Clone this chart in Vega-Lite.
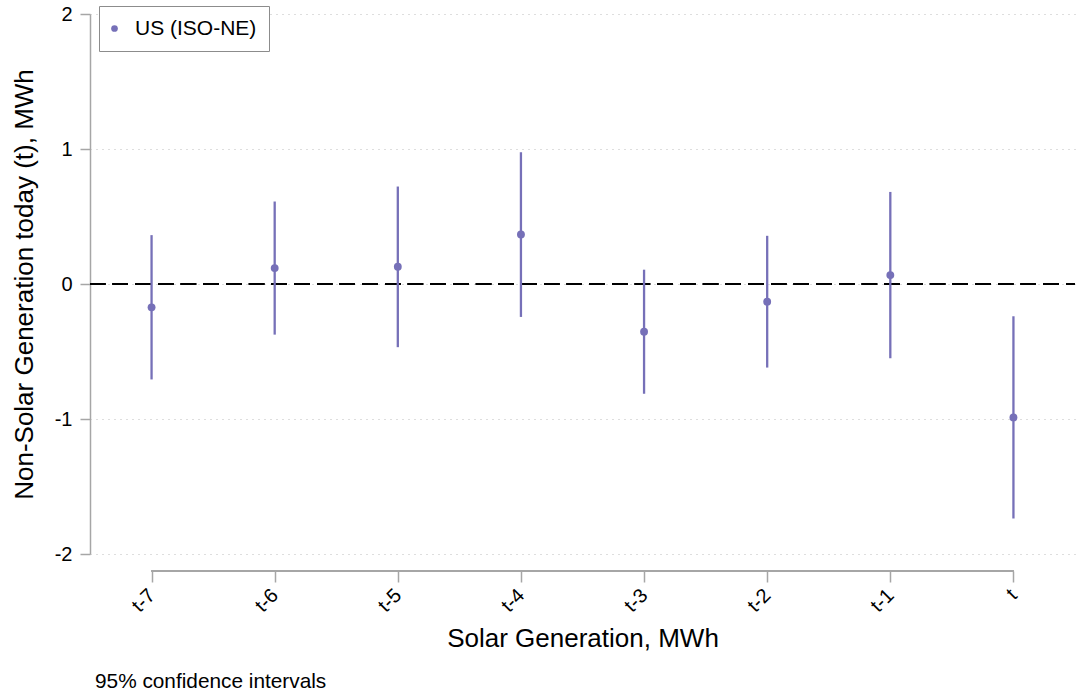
{
  "$schema": "https://vega.github.io/schema/vega-lite/v6.json",
  "width": 985,
  "height": 540,
  "autosize": {"type": "none"},
  "padding": {"left": 90, "top": 14, "right": 3, "bottom": 142},
  "background": "white",
  "config": {
    "view": {"stroke": null},
    "font": "Liberation Sans",
    "axis": {"labelFont": "Liberation Sans", "titleFont": "Liberation Sans", "labelColor": "black", "titleColor": "black", "titleFontWeight": "normal"}
  },
  "title": {
    "text": "95% confidence intervals",
    "orient": "bottom",
    "anchor": "start",
    "frame": "group",
    "fontSize": 20.8,
    "fontWeight": "normal",
    "font": "Liberation Sans",
    "color": "black",
    "dx": 5,
    "offset": 20
  },
  "data": {
    "values": [
      {"lag": "t-7", "b": -0.173, "lo": -0.707, "hi": 0.362, "series": "US (ISO-NE)"},
      {"lag": "t-6", "b": 0.118, "lo": -0.375, "hi": 0.611, "series": "US (ISO-NE)"},
      {"lag": "t-5", "b": 0.128, "lo": -0.468, "hi": 0.722, "series": "US (ISO-NE)"},
      {"lag": "t-4", "b": 0.367, "lo": -0.244, "hi": 0.976, "series": "US (ISO-NE)"},
      {"lag": "t-3", "b": -0.353, "lo": -0.813, "hi": 0.106, "series": "US (ISO-NE)"},
      {"lag": "t-2", "b": -0.131, "lo": -0.619, "hi": 0.357, "series": "US (ISO-NE)"},
      {"lag": "t-1", "b": 0.066, "lo": -0.55, "hi": 0.682, "series": "US (ISO-NE)"},
      {"lag": "t", "b": -0.988, "lo": -1.737, "hi": -0.239, "series": "US (ISO-NE)"}
    ]
  },
  "encoding": {
    "x": {
      "field": "lag",
      "type": "ordinal",
      "sort": null,
      "scale": {"type": "point", "padding": 0.5},
      "axis": {
        "title": "Solar Generation, MWh",
        "titleFontSize": 26,
        "titlePadding": 10,
        "labelFontSize": 20,
        "labelAngle": -45,
        "labelAlign": "right",
        "labelBaseline": "middle",
        "labelPadding": 10,
        "domain": false,
        "ticks": true,
        "tickSize": 11,
        "tickColor": "#a6a6a6",
        "tickWidth": 1.5,
        "offset": 17,
        "grid": false
      }
    }
  },
  "layer": [
    {
      "mark": {"type": "rule", "color": "black", "strokeWidth": 2, "strokeDash": [15.3, 7.4]},
      "encoding": {
        "y": {
          "datum": 0,
          "type": "quantitative",
          "scale": {"domain": [-2, 2], "nice": false, "zero": false},
          "axis": {
            "title": "Non-Solar Generation today (t), MWh",
            "titleFontSize": 26,
            "titlePadding": 17,
            "values": [-2, -1, 0, 1, 2],
            "labelExpr": "'' + datum.value",
            "labelFontSize": 20,
            "labelPadding": 8,
            "labelAngle": 0,
            "domain": true,
            "domainColor": "#a6a6a6",
            "domainWidth": 1.5,
            "tickColor": "#a6a6a6",
            "tickWidth": 1.5,
            "tickSize": 10,
            "grid": true,
            "gridColor": "#bdbdbd",
            "gridDash": [1, 5],
            "gridWidth": 1
          }
        },
        "x": {"value": 0},
        "x2": {"value": 985}
      }
    },
    {
      "mark": {"type": "rule", "color": "#7670b8", "strokeWidth": 2.3},
      "encoding": {
        "y": {"field": "lo", "type": "quantitative"},
        "y2": {"field": "hi"}
      }
    },
    {
      "mark": {"type": "circle", "opacity": 1, "size": 62},
      "encoding": {
        "y": {"field": "b", "type": "quantitative"},
        "color": {
          "field": "series",
          "type": "nominal",
          "scale": {"range": ["#7670b8"]},
          "legend": {
            "title": null,
            "orient": "none",
            "legendX": 9,
            "legendY": -8,
            "strokeColor": "#8c8c8c",
            "fillColor": "white",
            "padding": 12,
            "labelFontSize": 21,
            "labelFont": "Liberation Sans",
            "labelColor": "black",
            "symbolSize": 45,
            "symbolType": "circle",
            "symbolOffset": -7,
            "labelOffset": 10
          }
        }
      }
    },
    {
      "mark": {"type": "rule", "color": "#a6a6a6", "strokeWidth": 1.5},
      "encoding": {
        "x": {"datum": "t-7"},
        "x2": {"datum": "t"},
        "y": {"datum": -2.126, "type": "quantitative"}
      }
    }
  ]
}
